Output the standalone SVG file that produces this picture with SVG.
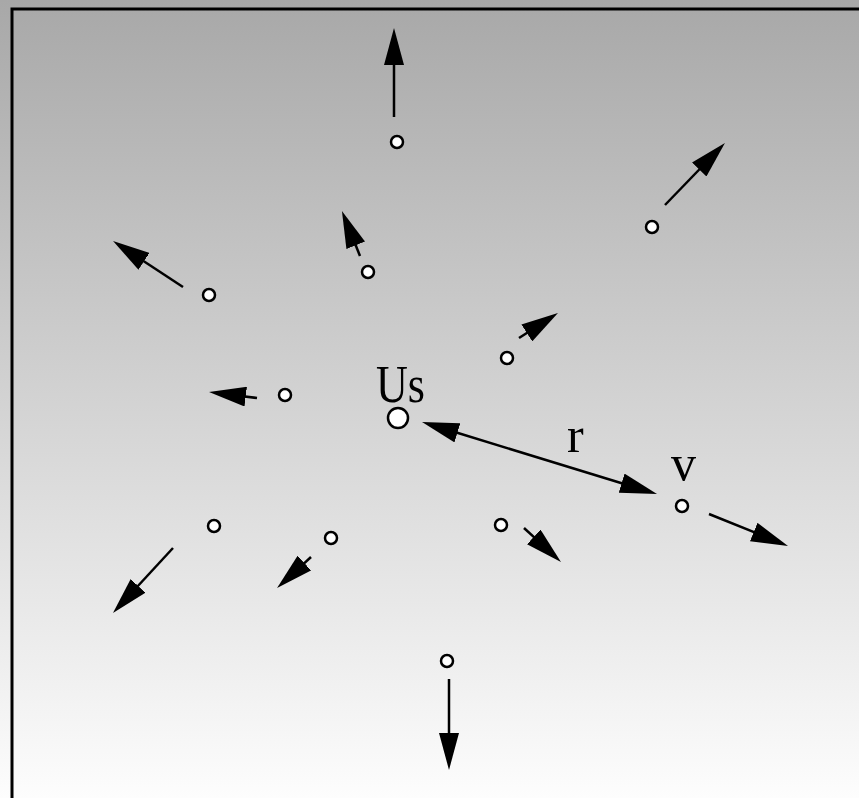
<svg xmlns="http://www.w3.org/2000/svg" width="859" height="798" viewBox="0 0 859 798">
<defs>
<linearGradient id="bg" x1="0" y1="0" x2="0" y2="1">
<stop offset="0" stop-color="#a8a8a8"/>
<stop offset="1" stop-color="#fdfdfd"/>
</linearGradient>
<marker id="ah" viewBox="0 0 37 20" refX="7" refY="10" markerWidth="37" markerHeight="20" markerUnits="userSpaceOnUse" orient="auto-start-reverse">
<path d="M0,0 L37,10 L0,20 z" fill="#000"/>
</marker>
</defs>
<style>
.dot{fill:#fff;stroke:#000;stroke-width:2.5}
.arr{fill:none;stroke:#000;stroke-width:2.5;marker-end:url(#ah)}
.lbl{font-family:"Liberation Serif","Times New Roman",serif;font-size:50px;fill:#000}
</style>
<rect x="0" y="0" width="859" height="798" fill="url(#bg)"/>
<rect x="12" y="9" width="900" height="900" fill="none" stroke="#000" stroke-width="3"/>
<g id="connectors">
<path class="arr" d="M394,117 L394,58"/>
<path class="arr" d="M665,205 L704.1,164.5"/>
<path class="arr" d="M519,338 L532.7,329.2"/>
<path class="arr" d="M360,256 L353.1,238.8"/>
<path class="arr" d="M183,287 L138.1,257.5"/>
<path class="arr" d="M257,398 L238.8,395.7"/>
<path class="arr" d="M450.7,430.8 L628.3,485.2" style="marker-start:url(#ah)"/>
<path class="arr" d="M709,514 L760.2,534.7"/>
<path class="arr" d="M524,528 L538.9,541.7"/>
<path class="arr" d="M173,548 L133.3,591"/>
<path class="arr" d="M311,557 L299.2,567.8"/>
<path class="arr" d="M449,679 L449,740"/>
</g>
<g id="us"><circle class="dot" cx="398" cy="418" r="10"/><text class="lbl" style="font-size:53px" x="376" y="402" textLength="49" lengthAdjust="spacingAndGlyphs">Us</text></g>
<g id="v"><circle class="dot" cx="682" cy="506" r="6"/><text class="lbl" x="671" y="480">v</text></g>
<g id="r-label"><text class="lbl" x="567" y="452">r</text></g>
<g id="p1"><circle class="dot" cx="397" cy="142" r="6"/></g>
<g id="p2"><circle class="dot" cx="652" cy="227" r="6"/></g>
<g id="p3"><circle class="dot" cx="507" cy="358" r="6"/></g>
<g id="p4"><circle class="dot" cx="368" cy="272" r="6"/></g>
<g id="p5"><circle class="dot" cx="209" cy="295" r="6"/></g>
<g id="p6"><circle class="dot" cx="285" cy="395" r="6"/></g>
<g id="p7"><circle class="dot" cx="501" cy="525" r="6"/></g>
<g id="p8"><circle class="dot" cx="214" cy="526" r="6"/></g>
<g id="p9"><circle class="dot" cx="331" cy="538" r="6"/></g>
<g id="p10"><circle class="dot" cx="447" cy="661" r="6"/></g>
</svg>
